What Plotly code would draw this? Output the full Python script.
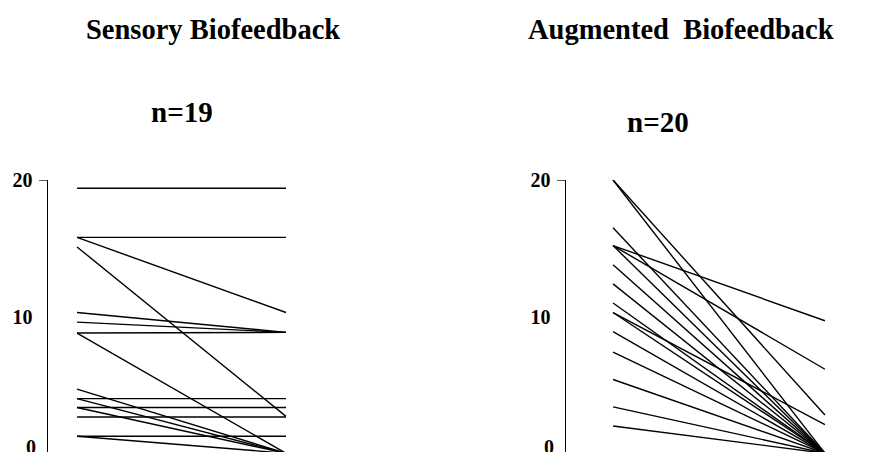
import plotly.graph_objects as go

# ---------------- data ----------------
sessions = [0, 1]  # before / after

sensory_pre = [19.4, 15.8, 15.8, 15.1, 10.3, 9.6, 8.8, 8.8, 4.7, 4.0, 4.0,
               3.35, 3.35, 2.65, 1.25, 1.25, 0, 0, 0]
sensory_post = [19.4, 15.8, 10.3, 2.7, 8.85, 8.85, 8.85, 0, 0, 4.0, 0,
                3.35, 0, 2.65, 1.25, 0, 0, 0, 0]

augmented_pre = [20, 20, 16.5, 15.2, 15.2, 15.2, 13.8, 12.4, 11.0, 10.3, 10.3,
                 8.9, 7.4, 5.4, 3.4, 2.0, 0, 0, 0, 0]
augmented_post = [0, 2.8, 0, 9.7, 6.15, 0, 0, 0, 0, 2.1, 0,
                  0, 0, 0, 0, 0, 0, 0, 0, 0]

panel_titles = ["Sensory Biofeedback", "Augmented\u00a0 Biofeedback"]
panel_n = ["n=19", "n=20"]
tick_vals = [0, 10, 20]
tick_text = ["0", "10", "20"]

# ---------------- layout constants ----------------
W, H = 880, 452
Y_RANGE = [0.093, 20]
Y_DOM = [0.0, 0.6168]
X_DOM = [[48 / W, 300 / W], [566 / W, 840 / W]]
X_RANGE = [[-0.139, 1.067], [-0.222, 1.071]]
SERIF = "Liberation Serif, Times New Roman, serif"

fig = go.Figure()

groups = [(sensory_pre, sensory_post, "x", "y"),
          (augmented_pre, augmented_post, "x2", "y2")]
for pre, post, xa, ya in groups:
    for a, b in zip(pre, post):
        fig.add_trace(go.Scatter(
            x=sessions, y=[a, b], mode="lines",
            line=dict(color="black", width=1.4),
            xaxis=xa, yaxis=ya, showlegend=False, hoverinfo="skip"))

axis_common_y = dict(
    range=Y_RANGE, domain=Y_DOM, showgrid=False, zeroline=False,
    showline=True, linecolor="black", linewidth=1.5,
    tickmode="array", tickvals=tick_vals[1:],
    ticktext=["<b>%s</b>" % t for t in tick_text[1:]],
    ticks="", ticklabelstandoff=10,
    tickfont=dict(family=SERIF, size=20, color="black"),
)
axis_common_x = dict(visible=False, showgrid=False, zeroline=False)

fig.update_layout(
    width=W, height=H,
    margin=dict(l=0, r=0, t=0, b=0),
    paper_bgcolor="white", plot_bgcolor="white",
    font=dict(family=SERIF, color="black"),
    xaxis=dict(domain=X_DOM[0], range=X_RANGE[0], anchor="y", **axis_common_x),
    xaxis2=dict(domain=X_DOM[1], range=X_RANGE[1], anchor="y2", **axis_common_x),
    yaxis=dict(anchor="x", **axis_common_y),
    yaxis2=dict(anchor="x2", **axis_common_y),
)

# tick mark at the top value (only the top tick is drawn in the reference)
for i, (xr, yr) in enumerate([("x domain", "y"), ("x2 domain", "y2")]):
    dom_w = (X_DOM[i][1] - X_DOM[i][0]) * W
    fig.add_shape(type="line", xref=xr, yref=yr,
                  x0=-9 / dom_w, x1=0, y0=tick_vals[-1], y1=tick_vals[-1],
                  line=dict(color="black", width=1.3))

# "0" label sits on the cropped bottom edge -> place it in paper coords
for i in range(2):
    fig.add_annotation(
        xref="paper", yref="paper", x=X_DOM[i][0], y=1 - 447 / H,
        xanchor="right", yanchor="middle", xshift=-10,
        text="<b>%s</b>" % tick_text[0], showarrow=False,
        font=dict(family=SERIF, size=20, color="black"))

# titles and group sizes
title_pos = [(213 / W, 0.9584), (681 / W, 0.9584)]
n_pos = [(182 / W, 0.772), (658 / W, 0.749)]
for i in range(2):
    fig.add_annotation(
        xref="paper", yref="paper", x=title_pos[i][0], y=title_pos[i][1],
        xanchor="center", yanchor="middle", text="<b>%s</b>" % panel_titles[i],
        showarrow=False, font=dict(family=SERIF, size=28.5, color="black"))
    fig.add_annotation(
        xref="paper", yref="paper", x=n_pos[i][0], y=n_pos[i][1],
        xanchor="center", yanchor="middle", text="<b>%s</b>" % panel_n[i],
        showarrow=False, font=dict(family=SERIF, size=29, color="black"))

fig.write_html(
    "out.html",
    config={"displayModeBar": False, "staticPlot": True},
    post_script=(
        "document.documentElement.style.margin='0';"
        "document.body.style.margin='0';document.body.style.padding='0';"
        "document.documentElement.style.overflow='hidden';"
        "var d=document.getElementById('{plot_id}');"
        "d.style.position='fixed';d.style.top='0px';d.style.left='0px';"
    ),
)
